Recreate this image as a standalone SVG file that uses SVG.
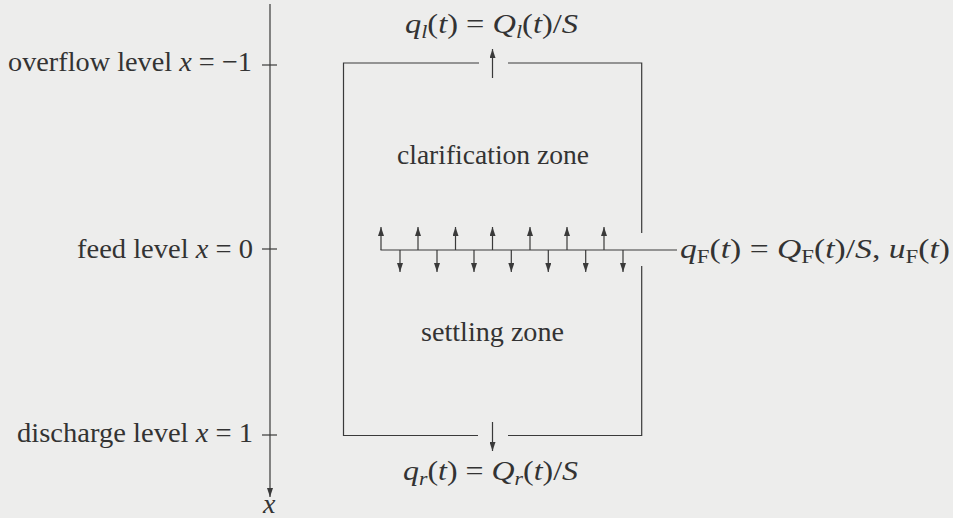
<svg xmlns="http://www.w3.org/2000/svg" width="953" height="518" viewBox="0 0 953 518">
<defs>
<style>
.ln{stroke:#3a3a3a;stroke-width:1.2;fill:none}
.ar{stroke:#3a3a3a;stroke-width:1.2;fill:none;marker-end:url(#ah)}
text{font-family:"Liberation Serif","DejaVu Serif",serif;fill:#333;font-size:28px}
.i{font-style:italic}
.s{font-size:19px}
</style>
<marker id="ah" markerWidth="9" markerHeight="6" refX="9" refY="3" orient="auto" markerUnits="userSpaceOnUse">
<path d="M0,0 L9,3 L0,6 z" fill="#3a3a3a"/>
</marker>
</defs>
<rect width="953" height="518" fill="#ededec"/>

<g id="axis">
<line class="ar" x1="270" y1="4" x2="270" y2="497"/>
<line class="ln" x1="262" y1="65" x2="277" y2="65"/>
<line class="ln" x1="262" y1="249" x2="277" y2="249"/>
<line class="ln" x1="262" y1="435" x2="277" y2="435"/>
<text x="263" y="513" class="i">x</text>
</g>

<g id="labels-left">
<text x="8" y="71" textLength="244" lengthAdjust="spacingAndGlyphs">overflow level <tspan class="i">x</tspan> = −1</text>
<text x="77" y="258" textLength="176" lengthAdjust="spacingAndGlyphs">feed level <tspan class="i">x</tspan> = 0</text>
<text x="17" y="442" textLength="236" lengthAdjust="spacingAndGlyphs">discharge level <tspan class="i">x</tspan> = 1</text>
</g>

<g id="tank">
<polyline class="ln" points="479,63 343.5,63 343.5,435.5 478,435.5"/>
<polyline class="ln" points="508,63 641.7,63 641.7,233"/>
<polyline class="ln" points="641.7,266 641.7,435.5 508,435.5"/>
<text x="397" y="164" textLength="192" lengthAdjust="spacingAndGlyphs">clarification zone</text>
<text x="421" y="341" textLength="143" lengthAdjust="spacingAndGlyphs">settling zone</text>
</g>

<g id="overflow">
<line class="ar" x1="492.5" y1="78" x2="492.5" y2="49"/>
<text x="405" y="33" textLength="173" lengthAdjust="spacingAndGlyphs"><tspan class="i">q</tspan><tspan class="i s" dy="5">l</tspan><tspan dy="-5">(</tspan><tspan class="i">t</tspan>) = <tspan class="i">Q</tspan><tspan class="i s" dy="5">l</tspan><tspan dy="-5">(</tspan><tspan class="i">t</tspan>)/<tspan class="i">S</tspan></text>
</g>

<g id="discharge">
<line class="ar" x1="492.5" y1="422" x2="492.5" y2="451"/>
<text x="403" y="480" textLength="175" lengthAdjust="spacingAndGlyphs"><tspan class="i">q</tspan><tspan class="i s" dy="5">r</tspan><tspan dy="-5">(</tspan><tspan class="i">t</tspan>) = <tspan class="i">Q</tspan><tspan class="i s" dy="5">r</tspan><tspan dy="-5">(</tspan><tspan class="i">t</tspan>)/<tspan class="i">S</tspan></text>
</g>

<g id="feed">
<line class="ln" x1="380.5" y1="250" x2="677" y2="250"/>
<g id="feed-up">
<line class="ar" x1="381" y1="250" x2="381" y2="227"/>
<line class="ar" x1="418" y1="250" x2="418" y2="227"/>
<line class="ar" x1="455.5" y1="250" x2="455.5" y2="227"/>
<line class="ar" x1="492.5" y1="250" x2="492.5" y2="227"/>
<line class="ar" x1="530" y1="250" x2="530" y2="227"/>
<line class="ar" x1="567" y1="250" x2="567" y2="227"/>
<line class="ar" x1="604" y1="250" x2="604" y2="227"/>
</g>
<g id="feed-down">
<line class="ar" x1="400" y1="250" x2="400" y2="272"/>
<line class="ar" x1="437" y1="250" x2="437" y2="272"/>
<line class="ar" x1="474" y1="250" x2="474" y2="272"/>
<line class="ar" x1="511.3" y1="250" x2="511.3" y2="272"/>
<line class="ar" x1="548.3" y1="250" x2="548.3" y2="272"/>
<line class="ar" x1="585.7" y1="250" x2="585.7" y2="272"/>
<line class="ar" x1="623" y1="250" x2="623" y2="272"/>
</g>
<text x="680" y="258" textLength="270" lengthAdjust="spacingAndGlyphs"><tspan class="i">q</tspan><tspan class="s" dy="5">F</tspan><tspan dy="-5">(</tspan><tspan class="i">t</tspan>) = <tspan class="i">Q</tspan><tspan class="s" dy="5">F</tspan><tspan dy="-5">(</tspan><tspan class="i">t</tspan>)/<tspan class="i">S</tspan>, <tspan class="i">u</tspan><tspan class="s" dy="5">F</tspan><tspan dy="-5">(</tspan><tspan class="i">t</tspan>)</text>
</g>
</svg>
